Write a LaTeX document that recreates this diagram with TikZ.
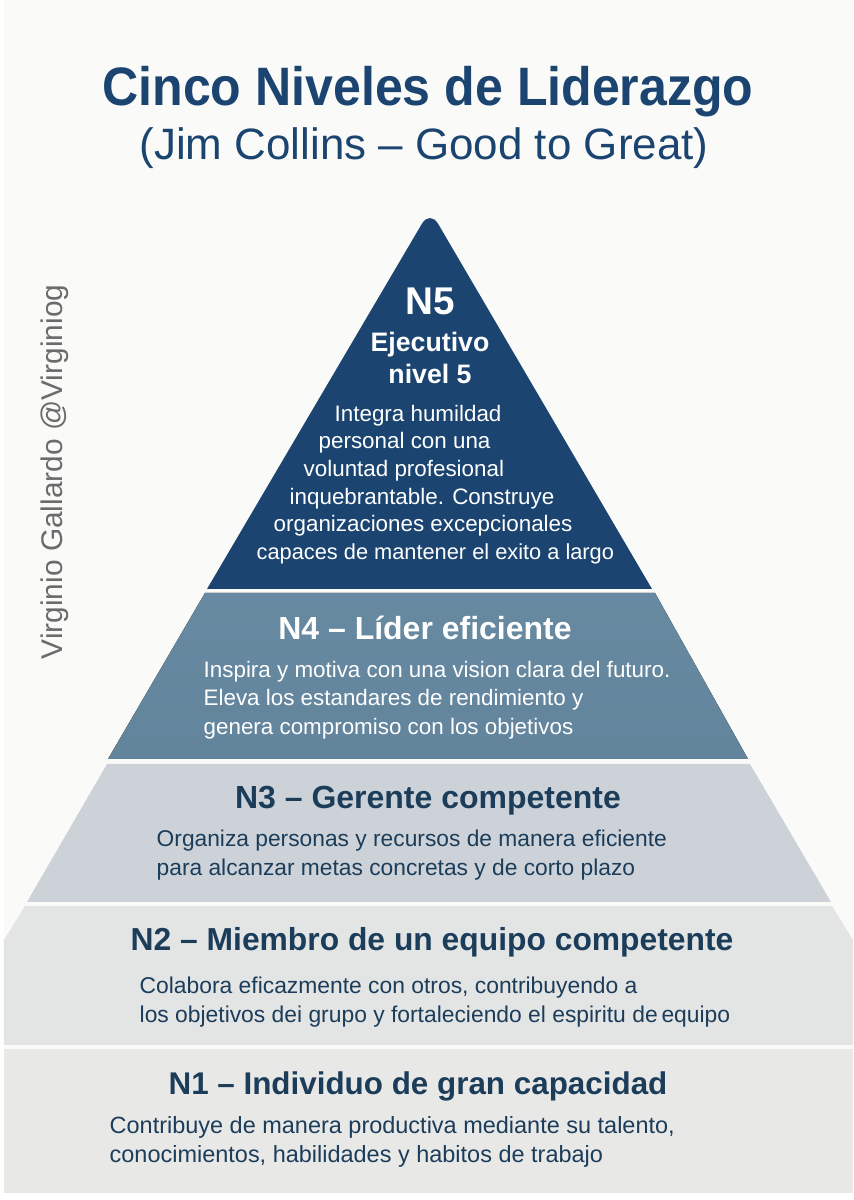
\documentclass[tikz,border=0pt]{standalone}
\usepackage{fontspec}
\setmainfont{Liberation Sans}
\newfontfamily\titlefont[FakeStretch=0.925]{Liberation Sans}
\definecolor{navy}{HTML}{1B4570}
\definecolor{inkdark}{HTML}{1C3D5A}
\definecolor{pagegray}{HTML}{FAFAF8}
\definecolor{tierfour}{HTML}{64879F}
\definecolor{tierthree}{HTML}{CCD2D8}
\definecolor{tiertwo}{HTML}{E3E4E4}
\definecolor{tierone}{HTML}{E8E8E7}
\tikzset{
	heading/.style={anchor=center, inner sep=0pt, font=\bfseries\fontsize{9.1}{11}\selectfont},
	bodytext/.style={anchor=west, inner sep=0pt, align=left, font=\fontsize{#1}{8.1}\selectfont},
	bodytext/.default=6.37,
}

\begin{document}
\begin{tikzpicture}
	%%%%% PAGE %%%%%
	\useasboundingbox (0, 0) rectangle (8.53, 12);
	\fill[white] (0, 0) rectangle (8.53, 12);
	\fill[pagegray] (0.04, 0.07) rectangle (8.53, 12);
	
	%%%%% TIERS %%%%%
	\fill[navy] (2.07, 6.11) [rounded corners=0.16cm] -- (4.30, 9.90) [sharp corners] -- (6.52, 6.11) -- cycle;
	\fill[top color=tierfour!98!white, bottom color=tierfour!98!black] (2.05, 6.07) -- (6.55, 6.07) -- (7.48, 4.41) -- (1.08, 4.41) -- cycle;
	\fill[tierthree] (1.07, 4.36) -- (7.50, 4.36) -- (8.31, 2.98) -- (0.27, 2.98) -- cycle;
	\fill[tiertwo] (0.25, 2.94) -- (8.32, 2.94) -- (8.53, 2.60) -- (8.53, 1.55) -- (0.04, 1.55) -- (0.04, 2.60) -- cycle;
	\fill[tierone] (0.04, 1.51) rectangle (8.53, 0.07);
	
	%%%%% TITLE %%%%%
	\node[anchor=center, inner sep=0pt, text=navy, font=\titlefont\bfseries\fontsize{15.4}{18}\selectfont] (title) at (4.28, 11.08) {Cinco Niveles de Liderazgo};
	\node[anchor=center, inner sep=0pt, text=navy, font=\fontsize{12.5}{15}\selectfont] (subtitle) at (4.24, 10.52) {(Jim Collins – Good to Great)};
	\node[anchor=center, inner sep=0pt, rotate=90, text=black!58, font=\fontsize{8.5}{11}\selectfont] (signature) at (0.55, 7.28) {Virginio Gallardo @Virginiog};
	
	%%%%% N5 %%%%%
	\node[heading, text=white, font=\bfseries\fontsize{11}{13}\selectfont] (nfive) at (4.30, 8.99) {N5};
	\node[anchor=center, inner sep=0pt, align=center, text=white, font=\bfseries\fontsize{7.6}{9.1}\selectfont] (nfivename) at (4.30, 8.42) {Ejecutivo\\nivel 5};
	\node[bodytext, text=white] (nfiveone) at (3.34, 7.84) {Integra humildad};
	\node[bodytext, text=white] (nfivetwo) at (3.18, 7.57) {personal con una};
	\node[bodytext, text=white] (nfivethree) at (3.03, 7.29) {voluntad profesional};
	\node[bodytext, text=white] (nfivefour) at (2.89, 7.01) {inquebrantable. Construye};
	\node[bodytext, text=white] (nfivefive) at (2.73, 6.74) {organizaciones excepcionales};
	\node[bodytext=6.2, text=white] (nfivesix) at (2.56, 6.46) {capaces de mantener el exito a largo};
	
	%%%%% N4 %%%%%
	\node[heading, text=white] (nfour) at (4.25, 5.72) {N4 – Líder eficiente};
	\node[bodytext, text=white] (nfourbody) at (2.03, 5.00) {Inspira y motiva con una vision clara del futuro.\\Eleva los estandares de rendimiento y\\genera compromiso con los objetivos};
	
	%%%%% N3 %%%%%
	\node[heading, text=inkdark] (nthree) at (4.28, 3.99) {N3 – Gerente competente};
	\node[bodytext=6.48, text=inkdark] (nthreebody) at (1.56, 3.45) {Organiza personas y recursos de manera eficiente\\para alcanzar metas concretas y de corto plazo};
	
	%%%%% N2 %%%%%
	\node[heading, text=inkdark, font=\bfseries\fontsize{9.05}{11}\selectfont] (ntwo) at (4.32, 2.58) {N2 – Miembro de un equipo competente};
	\node[bodytext=6.5, text=inkdark] (ntwobody) at (1.39, 1.98) {Colabora eficazmente con otros, contribuyendo a\\los objetivos dei grupo y fortaleciendo el espiritu de\,equipo};
	
	%%%%% N1 %%%%%
	\node[heading, text=inkdark, font=\bfseries\fontsize{8.93}{11}\selectfont] (none) at (4.18, 1.14) {N1 – Individuo de gran capacidad};
	\node[bodytext=6.68, text=inkdark] (nonebody) at (1.09, 0.58) {Contribuye de manera productiva mediante su talento,\\conocimientos, habilidades y habitos de trabajo};
\end{tikzpicture}
\end{document}
